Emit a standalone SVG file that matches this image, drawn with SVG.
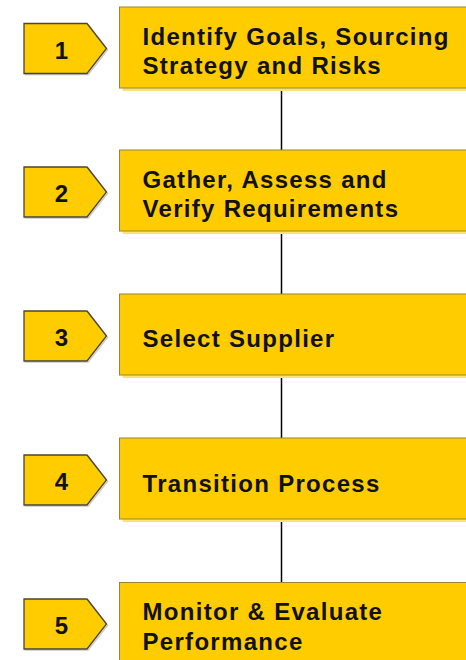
<svg xmlns="http://www.w3.org/2000/svg" width="466" height="660" viewBox="0 0 466 660">
  <defs>
    <style>
      .box { fill: #FFCC00; stroke: #9a8530; stroke-width: 1; }
      .box-shadow { fill: #FFE07A; }
      .tag { fill: #FFCC00; stroke: #4a4636; stroke-width: 1.3; stroke-linejoin: miter; }
      .tag-shadow { fill: none; stroke: #c8c8c8; stroke-width: 1.2; }
      .label { font-family: "Liberation Sans", Arial, sans-serif; font-weight: bold; font-size: 24px; letter-spacing: 1.3px; fill: #111111; }
      .num { font-family: "Liberation Sans", Arial, sans-serif; font-weight: bold; font-size: 24px; fill: #111111; text-anchor: middle; }
      .link { stroke: #000000; stroke-width: 1.5; fill: none; }
    </style>
    <!-- step tag (pentagon pointing right), drawn at origin -->
    <polygon id="tagShape" points="0,0 63,0 82.5,25 63,50 0,50"/>
  </defs>

  <rect width="466" height="660" fill="#ffffff"/>

  <!-- vertical connectors between steps -->
  <g id="connectors">
    <line class="link" x1="281.5" y1="88" x2="281.5" y2="150"/>
    <line class="link" x1="281.5" y1="231" x2="281.5" y2="294"/>
    <line class="link" x1="281.5" y1="375" x2="281.5" y2="438"/>
    <line class="link" x1="281.5" y1="519" x2="281.5" y2="582"/>
  </g>

  <!-- step 1 -->
  <g id="step1">
    <rect class="box-shadow" x="122.5" y="10" width="350" height="81"/>
    <rect class="box" x="119.5" y="7" width="350" height="81"/>
    <text class="label" x="142.5" y="44.5">Identify Goals, Sourcing</text>
    <text class="label" x="142.5" y="74">Strategy and Risks</text>
  </g>
  <g id="tag1" transform="translate(24,23.5)">
    <use href="#tagShape" class="tag-shadow" transform="translate(1.2,1.2)"/>
    <use href="#tagShape" class="tag"/>
    <text class="num" x="37.5" y="35">1</text>
  </g>

  <!-- step 2 -->
  <g id="step2">
    <rect class="box-shadow" x="122.5" y="153" width="350" height="81"/>
    <rect class="box" x="119.5" y="150" width="350" height="81"/>
    <text class="label" x="142.5" y="187.5">Gather, Assess and</text>
    <text class="label" x="142.5" y="216.5">Verify Requirements</text>
  </g>
  <g id="tag2" transform="translate(24,167)">
    <use href="#tagShape" class="tag-shadow" transform="translate(1.2,1.2)"/>
    <use href="#tagShape" class="tag"/>
    <text class="num" x="37.5" y="35">2</text>
  </g>

  <!-- step 3 -->
  <g id="step3">
    <rect class="box-shadow" x="122.5" y="297" width="350" height="81"/>
    <rect class="box" x="119.5" y="294" width="350" height="81"/>
    <text class="label" x="142.5" y="347">Select Supplier</text>
  </g>
  <g id="tag3" transform="translate(24,311)">
    <use href="#tagShape" class="tag-shadow" transform="translate(1.2,1.2)"/>
    <use href="#tagShape" class="tag"/>
    <text class="num" x="37.5" y="35">3</text>
  </g>

  <!-- step 4 -->
  <g id="step4">
    <rect class="box-shadow" x="122.5" y="441" width="350" height="81"/>
    <rect class="box" x="119.5" y="438" width="350" height="81"/>
    <text class="label" x="142.5" y="492">Transition Process</text>
  </g>
  <g id="tag4" transform="translate(24,455)">
    <use href="#tagShape" class="tag-shadow" transform="translate(1.2,1.2)"/>
    <use href="#tagShape" class="tag"/>
    <text class="num" x="37.5" y="35">4</text>
  </g>

  <!-- step 5 -->
  <g id="step5">
    <rect class="box-shadow" x="122.5" y="585.5" width="350" height="81"/>
    <rect class="box" x="119.5" y="582.5" width="350" height="81"/>
    <text class="label" x="142.5" y="620">Monitor &amp; Evaluate</text>
    <text class="label" x="142.5" y="649.5">Performance</text>
  </g>
  <g id="tag5" transform="translate(24,599)">
    <use href="#tagShape" class="tag-shadow" transform="translate(1.2,1.2)"/>
    <use href="#tagShape" class="tag"/>
    <text class="num" x="37.5" y="35">5</text>
  </g>
</svg>
